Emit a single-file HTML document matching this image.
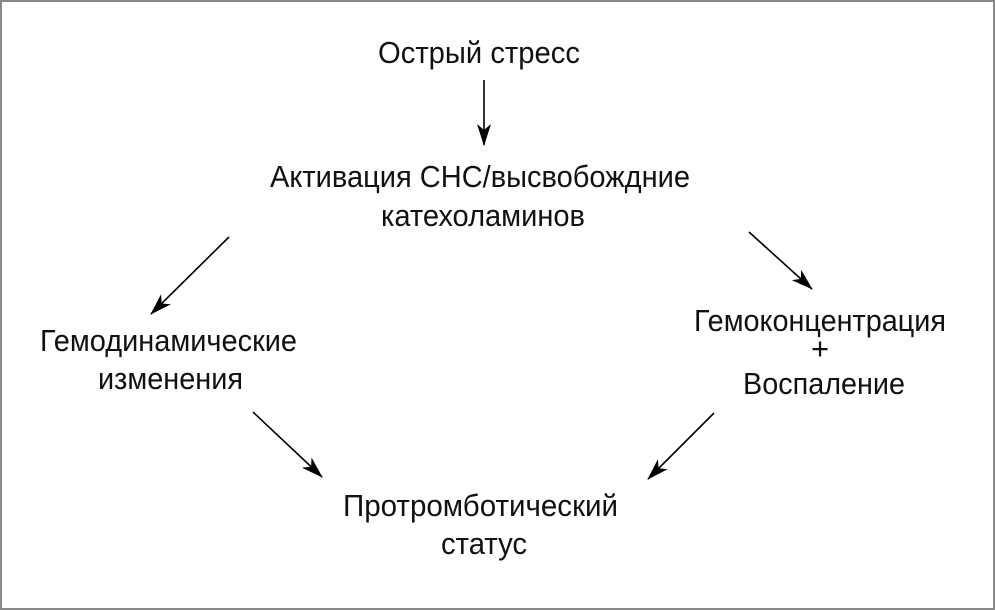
<!DOCTYPE html>
<html><head><meta charset="utf-8"><style>
html,body{margin:0;padding:0;background:#fff;}
svg{display:block;}
text{font-family:"Liberation Sans Narrow","Liberation Sans",sans-serif;font-size:31px;fill:#111;}
</style></head><body>
<svg width="995" height="610" viewBox="0 0 995 610" xmlns="http://www.w3.org/2000/svg">
<defs><marker id="a" viewBox="0 0 22 14" refX="21" refY="7" markerWidth="22" markerHeight="14" markerUnits="userSpaceOnUse" orient="auto"><path d="M0,0 L22,7 L0,14 L6,7 Z" fill="#000"/></marker></defs>
<rect x="1" y="1" width="993" height="608" fill="#fff" stroke="#888" stroke-width="2"/>
<g stroke="#000" stroke-width="1.6" fill="none">
<line x1="484" y1="80" x2="484" y2="145" marker-end="url(#a)"/>
<line x1="229" y1="237" x2="151" y2="314" marker-end="url(#a)"/>
<line x1="253" y1="412" x2="322" y2="477" marker-end="url(#a)"/>
<line x1="749" y1="232" x2="812" y2="289" marker-end="url(#a)"/>
<line x1="714" y1="413" x2="648" y2="479" marker-end="url(#a)"/>
</g>
<text x="378" y="63" textLength="202" lengthAdjust="spacingAndGlyphs">Острый стресс</text>
<text x="270" y="187" textLength="420" lengthAdjust="spacingAndGlyphs">Активация СНС/высвобождние</text>
<text x="381" y="226" textLength="204" lengthAdjust="spacingAndGlyphs">катехоламинов</text>
<text x="40" y="351" textLength="257" lengthAdjust="spacingAndGlyphs">Гемодинамические</text>
<text x="98" y="389" textLength="145" lengthAdjust="spacingAndGlyphs">изменения</text>
<text x="694" y="331" textLength="252" lengthAdjust="spacingAndGlyphs">Гемоконцентрация</text>
<text x="820" y="359" text-anchor="middle">+</text>
<text x="743" y="394" textLength="162" lengthAdjust="spacingAndGlyphs">Воспаление</text>
<text x="343" y="516" textLength="275" lengthAdjust="spacingAndGlyphs">Протромботический</text>
<text x="441" y="554" textLength="86" lengthAdjust="spacingAndGlyphs">статус</text>
</svg>
</body></html>
